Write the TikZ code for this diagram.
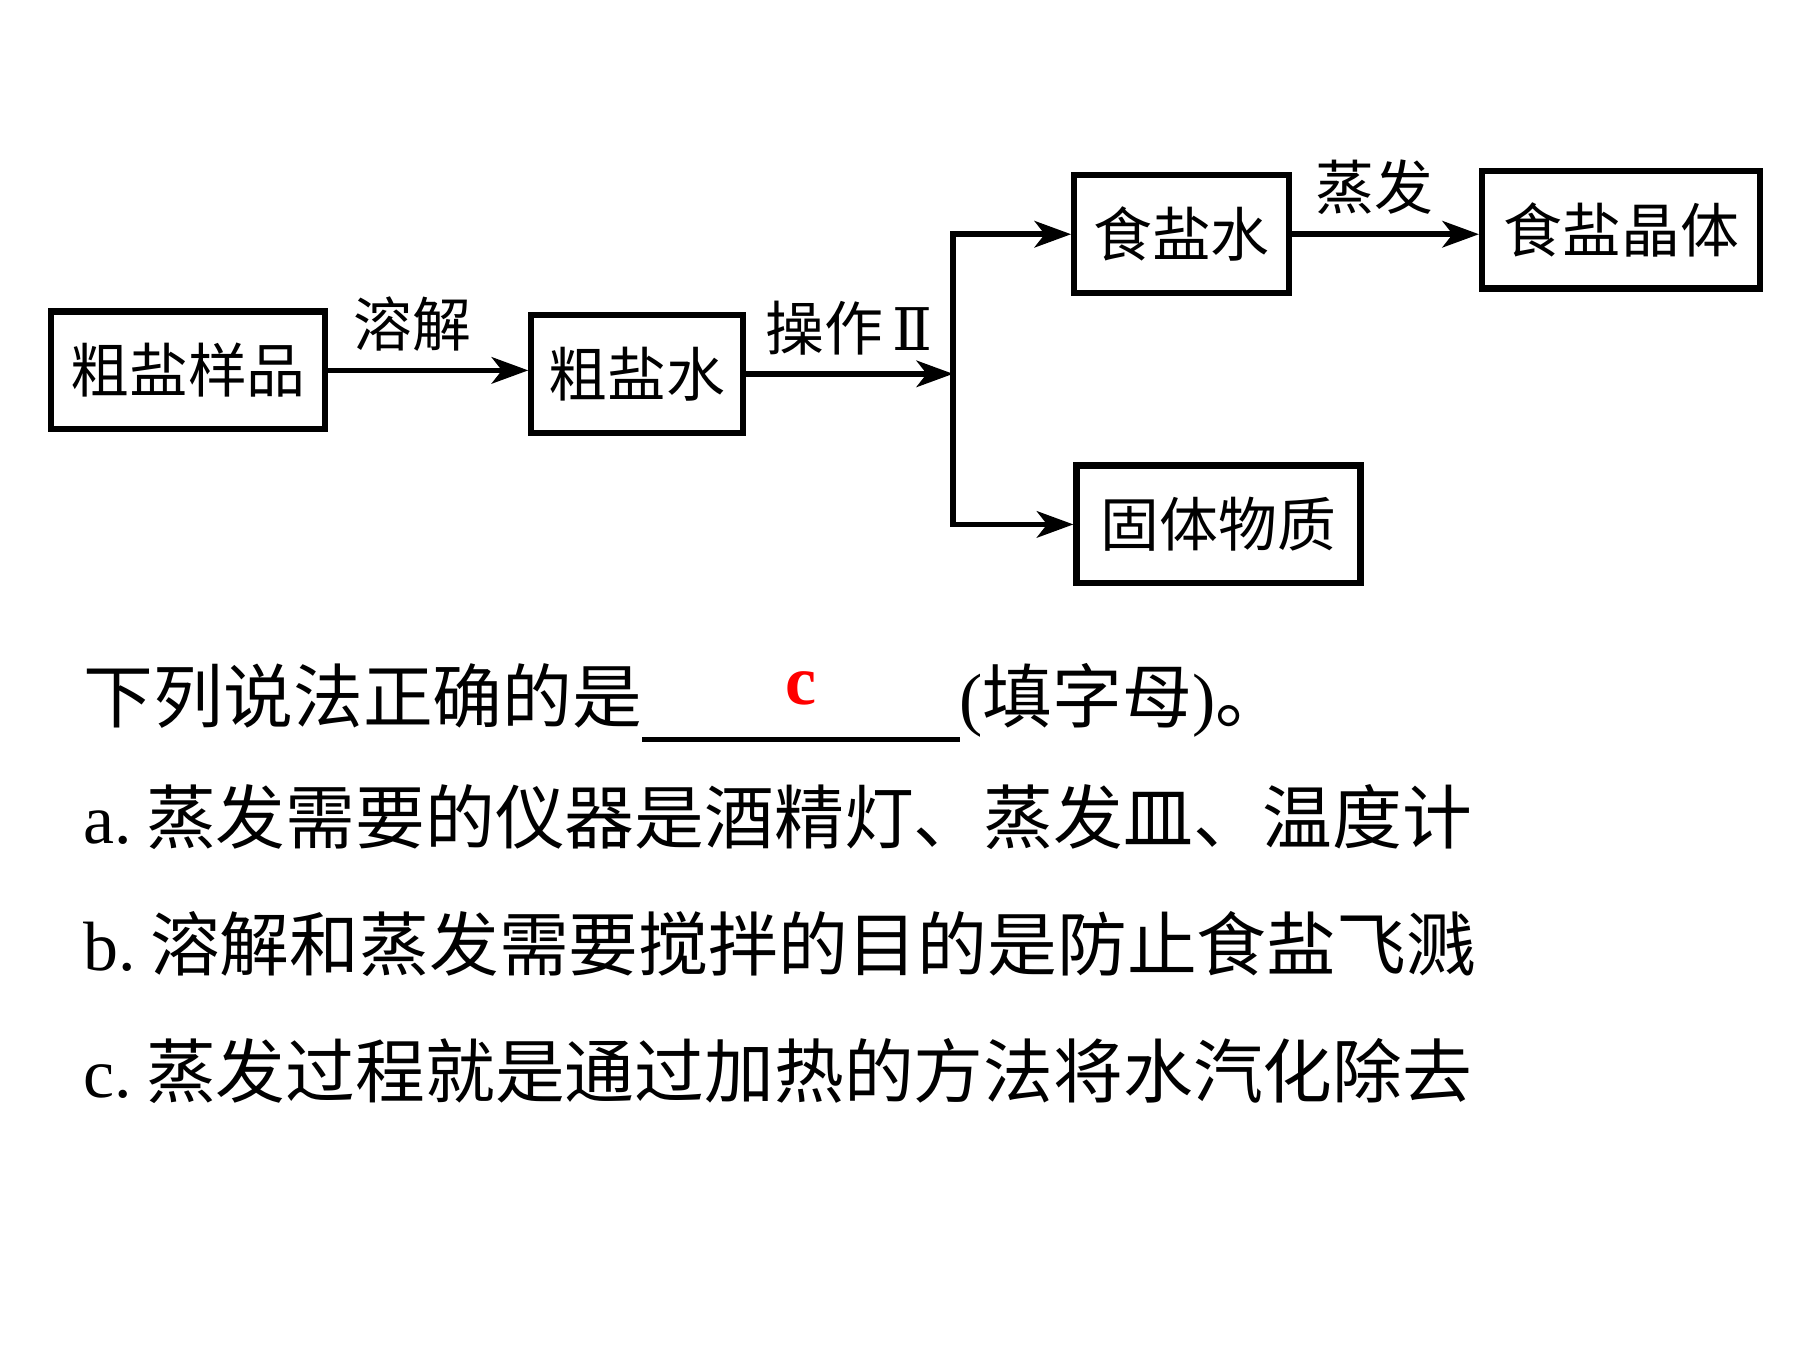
\documentclass[tikz,border=0pt]{standalone}
\usepackage{fontspec}
\usepackage{tikz}
\usetikzlibrary{positioning, arrows.meta}
\setmainfont{Liberation Serif}
\newfontfamily\cjk{Noto Sans CJK SC}
\newfontfamily\numfont{DejaVu Serif}
\newcommand{\boxsize}{\fontsize{14.5pt}{17pt}\selectfont}
\newcommand{\asksize}{\fontsize{17.2pt}{21pt}\selectfont}

\begin{document}
\begin{tikzpicture}[x=0.01cm, y=-0.01cm,
    saltbox/.style={rectangle, draw, line width=1.5pt, minimum height=1.02cm, inner sep=0pt, font=\cjk\boxsize},
    flow/.style={-{Stealth[length=9pt, width=6.5pt, inset=2.5pt]}, line width=1.4pt},
    steplabel/.style={above, inner sep=4pt, font=\cjk\boxsize},
    askline/.style={anchor=base west, inner sep=0pt, font=\asksize}]
    \useasboundingbox (0,0) rectangle (1560,1170);
    % flow chart
    \node (crude)   at (163,321)   [saltbox, minimum width=2.37cm] {粗盐样品};
    \node (brine)   at (552,324)   [saltbox, minimum width=1.83cm] {粗盐水};
    \node (salt)    at (1024,203)  [saltbox, minimum width=1.86cm] {食盐水};
    \node (crystal) at (1405,199)  [saltbox, minimum width=2.41cm] {食盐晶体};
    \node (solid)   at (1056,454.5) [saltbox, minimum width=2.46cm] {固体物质};
    \coordinate (split) at (826,324);
    \draw[flow] (crude.east) --node[steplabel, pos=0.42]{溶解} (crude.east -| brine.west);
    \draw[flow] (brine.east) --node[steplabel]{操作\hspace{0.08cm}{\numfont Ⅱ}} (split);
    \draw[flow] (split) |- (salt.west);
    \draw[flow] (split) |- (solid.west);
    \draw[flow] (salt.east) --node[steplabel, pos=0.44]{蒸发} (salt.east -| crystal.west);
    % question text
    \node (ask) at (72,626) [askline] {{\cjk 下列说法正确的是}\rlap{\rule[-0.17cm]{2.75cm}{0.04cm}}\makebox[2.75cm]{\raisebox{0.15cm}{\color{red}\bfseries c}}({\cjk 填字母}){\cjk 。}};
    \node (opta) at (72,731) [askline] {a.\hspace{0.12cm}{\cjk 蒸发需要的仪器是酒精灯、蒸发皿、温度计}};
    \node (optb) at (72,841) [askline] {b.\hspace{0.12cm}{\cjk 溶解和蒸发需要搅拌的目的是防止食盐飞溅}};
    \node (optc) at (72,951) [askline] {c.\hspace{0.12cm}{\cjk 蒸发过程就是通过加热的方法将水汽化除去}};
\end{tikzpicture}
\end{document}
